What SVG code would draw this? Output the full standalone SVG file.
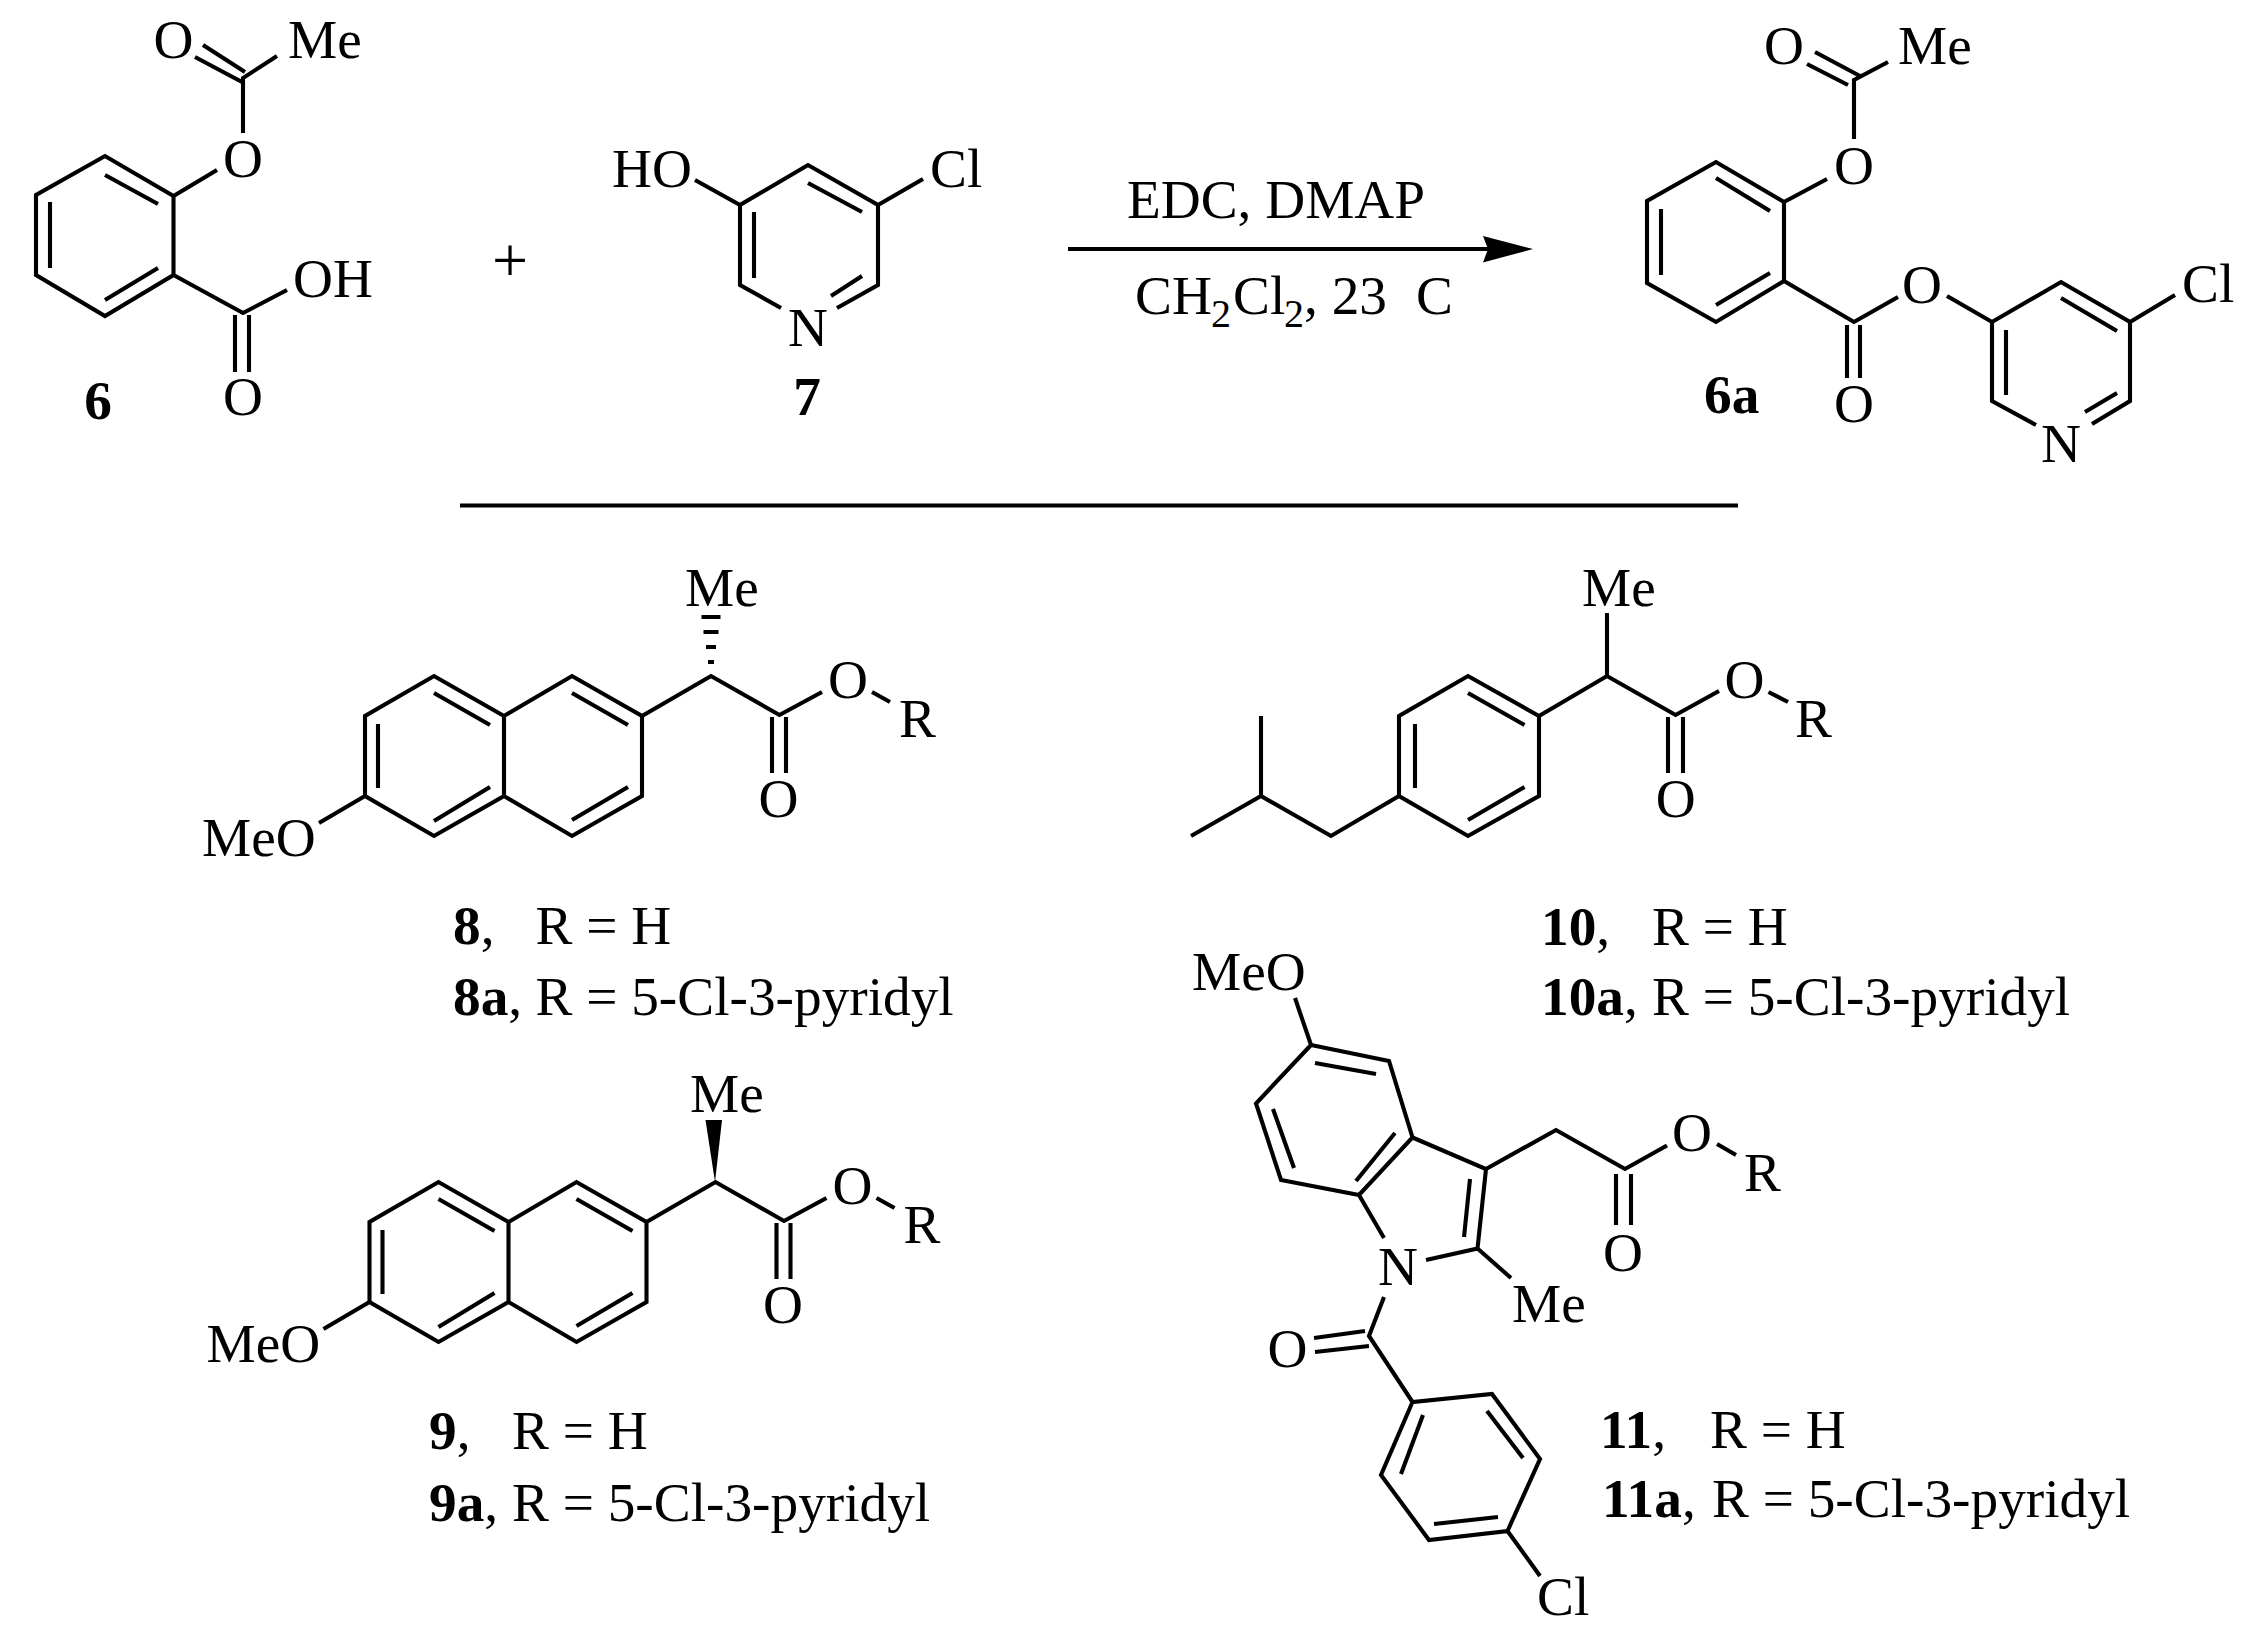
<svg xmlns="http://www.w3.org/2000/svg" width="2255" height="1633" viewBox="0 0 2255 1633">
<style>
text{font-family:"Liberation Serif","Times New Roman",serif;font-size:55.300px;fill:#000}
.b{font-weight:bold}
.m{text-anchor:middle}
.s{font-size:40px}
.p{font-size:64px}
path{fill:none;stroke:#000;stroke-width:4.100;stroke-linejoin:miter;stroke-linecap:butt}
.f{fill:#000;stroke:none}
.r{stroke-width:4.200}
</style>
<rect width="2255" height="1633" fill="#fff"/>
<g id="compound-6">
<path d="M173.500 196L105 156L36 195V275L105 316L173.500 275ZM105 175L158 204M50 202V268M105 300L158 268M173.500 196L217 170M243 133V78L277 56M242 82L195 57M245 72L203 45M173.500 275L243 313L287 290M235 315V372M249 315V372"/>
<text class="m" x="173.500" y="58">O</text><text x="288" y="58">Me</text><text class="m" x="243" y="177">O</text><text x="293" y="297">OH</text><text class="m" x="243" y="415">O</text><text class="b m" x="98" y="419">6</text>
</g>
<text id="plus" class="p m" x="510" y="281.500">+</text>
<g id="compound-7">
<path d="M781 308L740 285V205L808 165L878 205V285L837 308M808 183L862 212M754 212V278M831 296L862 276M695 180L740 205M878 205L923 179"/>
<text x="612" y="187">HO</text><text x="930" y="187">Cl</text><text class="m" x="808" y="346">N</text><text class="b m" x="807" y="415">7</text>
</g>
<g id="connectors">
<path id="divider" class="r" d="M460 505.500H1738"/>
<path id="arrow" class="r" d="M1068 249H1490"/>
<polygon class="f" points="1483,236 1533,249 1483,262.500 1488,249"/>
</g>
<g id="conditions">
<text x="1127" y="218">EDC, DMAP</text>
<text x="1135" y="314">CH<tspan class="s" x="1211" y="327">2</tspan><tspan x="1233" y="314">Cl</tspan><tspan class="s" x="1284" y="327">2</tspan><tspan x="1304" y="314">, 23</tspan><tspan x="1416" y="314">C</tspan></text>
</g>
<g id="compound-6a">
<path d="M1784 202L1716 162L1647 201V283L1716 322L1784 281ZM1716 178L1770 211M1661 209V275M1716 305L1770 273M1784 202L1827 179M1854 139V80L1888 62M1848 85L1807 64M1860 76L1815 52M1784 281L1854 322L1898 297M1947 296L1992 322L2061 282L2130 322V401L2092 424M2036 425L1992 401V322M2061 298L2117 331M2006 330V395M2085 412L2117 393M2130 322L2175 295M1847 325V378M1860 325V378"/>
<text class="m" x="1784" y="64">O</text><text x="1898" y="64">Me</text><text class="m" x="1854" y="184">O</text><text class="m" x="1922" y="303">O</text><text x="2182" y="302">Cl</text><text class="m" x="1854" y="422">O</text><text class="m" x="2061" y="462">N</text><text class="b" x="1704" y="413">6a</text>
</g>
<g id="compound-8">
<path d="M504 716L434 676L365 716V796L434 836L504 796ZM504 716L572 676L642 716V796L572 836L504 796M434 693L490 725M378 724V788M434 821L490 787M572 693L628 725M572 820L628 787M642 716L711 676L779.500 715L822 692M872 692L890 702M772 717V773M786 717V773M365 796L319 823"/>
<rect class="f" x="701.500" y="615" width="19" height="4"/><rect class="f" x="703.500" y="630" width="15" height="4"/><rect class="f" x="706" y="645" width="10" height="4"/><rect class="f" x="708" y="660" width="6" height="4"/>
<text x="685" y="606">Me</text><text class="m" x="848" y="698">O</text><text x="899" y="737">R</text><text class="m" x="778.500" y="817">O</text><text x="202" y="856">MeO</text>
<text x="453" y="944"><tspan class="b">8</tspan>,</text><text x="535.500" y="944">R = H</text>
<text x="453" y="1015"><tspan class="b">8a</tspan>,</text><text x="535.500" y="1015">R = 5-Cl-3-pyridyl</text>
</g>
<g id="compound-9">
<path transform="translate(4.500 506)" d="M504 716L434 676L365 716V796L434 836L504 796ZM504 716L572 676L642 716V796L572 836L504 796M434 693L490 725M378 724V788M434 821L490 787M572 693L628 725M572 820L628 787M642 716L711 676L779.500 715L822 692M872 692L890 702M772 717V773M786 717V773M365 796L319 823"/>
<polygon class="f" points="715,1182 705.500,1120 722,1120"/>
<text x="690" y="1112">Me</text><text class="m" x="852.500" y="1204">O</text><text x="903.500" y="1243">R</text><text class="m" x="783" y="1323">O</text><text x="206.500" y="1362">MeO</text>
<text x="429" y="1449"><tspan class="b">9</tspan>,</text><text x="512" y="1449">R = H</text>
<text x="429" y="1521"><tspan class="b">9a</tspan>,</text><text x="512" y="1521">R = 5-Cl-3-pyridyl</text>
</g>
<g id="compound-10">
<path d="M1539 716L1468 676L1399 716V796L1468 836L1539 796ZM1468 693L1524.500 725M1415 724V788M1468 820L1524.500 787M1539 716L1607 676L1675.600 715L1719 691M1607 676V613M1768.500 692L1788 702M1668 717V773M1683 717V773M1399 796L1331 836L1261 796V716M1261 796L1191 836"/>
<text x="1582" y="606">Me</text><text class="m" x="1744.500" y="698">O</text><text x="1795" y="737">R</text><text class="m" x="1675.600" y="817">O</text>
<text x="1541" y="945"><tspan class="b">10</tspan>,</text><text x="1652" y="945">R = H</text>
<text x="1541" y="1015"><tspan class="b">10a</tspan>,</text><text x="1652" y="1015">R = 5-Cl-3-pyridyl</text>
</g>
<g id="compound-11">
<path d="M1295 998L1311 1045L1389 1061L1412.500 1137.500L1359 1195L1281 1180L1256 1103.500L1311 1045M1315 1063L1376 1074M1273 1109L1294 1168M1395 1133L1356 1181M1412.500 1137.500L1486 1169L1477.500 1248.500L1426 1260M1359 1195L1384 1238M1470 1179L1464 1237M1477.500 1248.500L1511 1278M1486 1169L1556 1130L1625 1169L1667 1145.500M1717 1144L1736 1155M1616 1174V1225M1631 1174V1225M1384 1297L1369 1336L1412.500 1402L1492 1394L1540 1459L1507.500 1531L1429 1540L1381 1475L1412.500 1402M1314 1338L1365 1331M1315 1352L1369 1346M1487 1411L1523 1458M1498 1517L1434 1524M1401 1474L1423 1415M1507.500 1531L1540 1576"/>
<text x="1192" y="990">MeO</text><text class="m" x="1398" y="1285">N</text><text x="1512" y="1322">Me</text><text class="m" x="1692" y="1151">O</text><text x="1744" y="1191">R</text><text class="m" x="1623" y="1270.500">O</text><text class="m" x="1287.500" y="1367">O</text><text x="1537" y="1615">Cl</text>
<text x="1600" y="1448"><tspan class="b">11</tspan>,</text><text x="1710" y="1448">R = H</text>
<text x="1602" y="1517"><tspan class="b">11a</tspan>,</text><text x="1712" y="1517">R = 5-Cl-3-pyridyl</text>
</g>
</svg>
